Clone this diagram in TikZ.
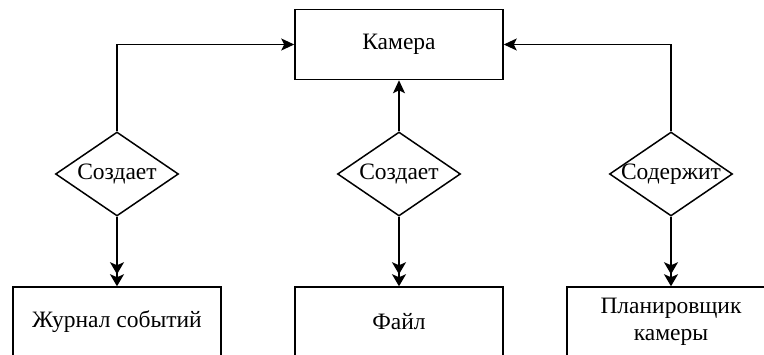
\documentclass[tikz,border=0pt]{standalone}
\usepackage{fontspec}
\setmainfont{Liberation Serif}
\usetikzlibrary{shapes.geometric,arrows.meta}

\tikzset{
  entity/.style={draw, line width=1.5pt, minimum width=208pt, minimum height=70pt,
    inner sep=0pt, align=center, font=\rmfamily\fontsize{23.5}{27}\selectfont},
  relation/.style={draw, diamond, line width=1.5pt, minimum width=123pt,
    minimum height=84pt, inner sep=0pt},
  rellabel/.style={font=\rmfamily\fontsize{23.5}{27}\selectfont},
  link/.style={line width=1.5pt},
  one/.style={link, -{Stealth[length=13pt,width=12pt,inset=3pt]}},
  many/.style={link, -{Stealth[length=12pt,width=14pt,inset=3pt]Stealth[length=12pt,width=14pt,inset=3pt]}}
}

\begin{document}
\begin{tikzpicture}[x=1pt,y=-1pt]
  \useasboundingbox (0,0) rectangle (764,355);
  \clip (0,0) rectangle (764,355);

  % entities
  \node[entity] (cam) at (399,44.5) {Камера};
  \node[entity] (log) at (117,322) {Журнал событий};
  \node[entity] (file) at (399,322) {Файл};
  \node[entity] (sched) at (671,322) {Планировщик\\камеры};

  % relationships
  \node[relation, label={[rellabel]center:Создает}] (r1) at (117,174) {};
  \node[relation, label={[rellabel]center:Создает}] (r2) at (399,174) {};
  \node[relation, label={[rellabel]center:Содержит}] (r3) at (671,174) {};

  % connectors
  \draw[one] (r1.north) |- (cam.west);
  \draw[one] (r2.north) -- (cam.south);
  \draw[one] (r3.north) |- (cam.east);
  \draw[many] (r1.south) -- (log.north);
  \draw[many] (r2.south) -- (file.north);
  \draw[many] (r3.south) -- (sched.north);
\end{tikzpicture}
\end{document}
